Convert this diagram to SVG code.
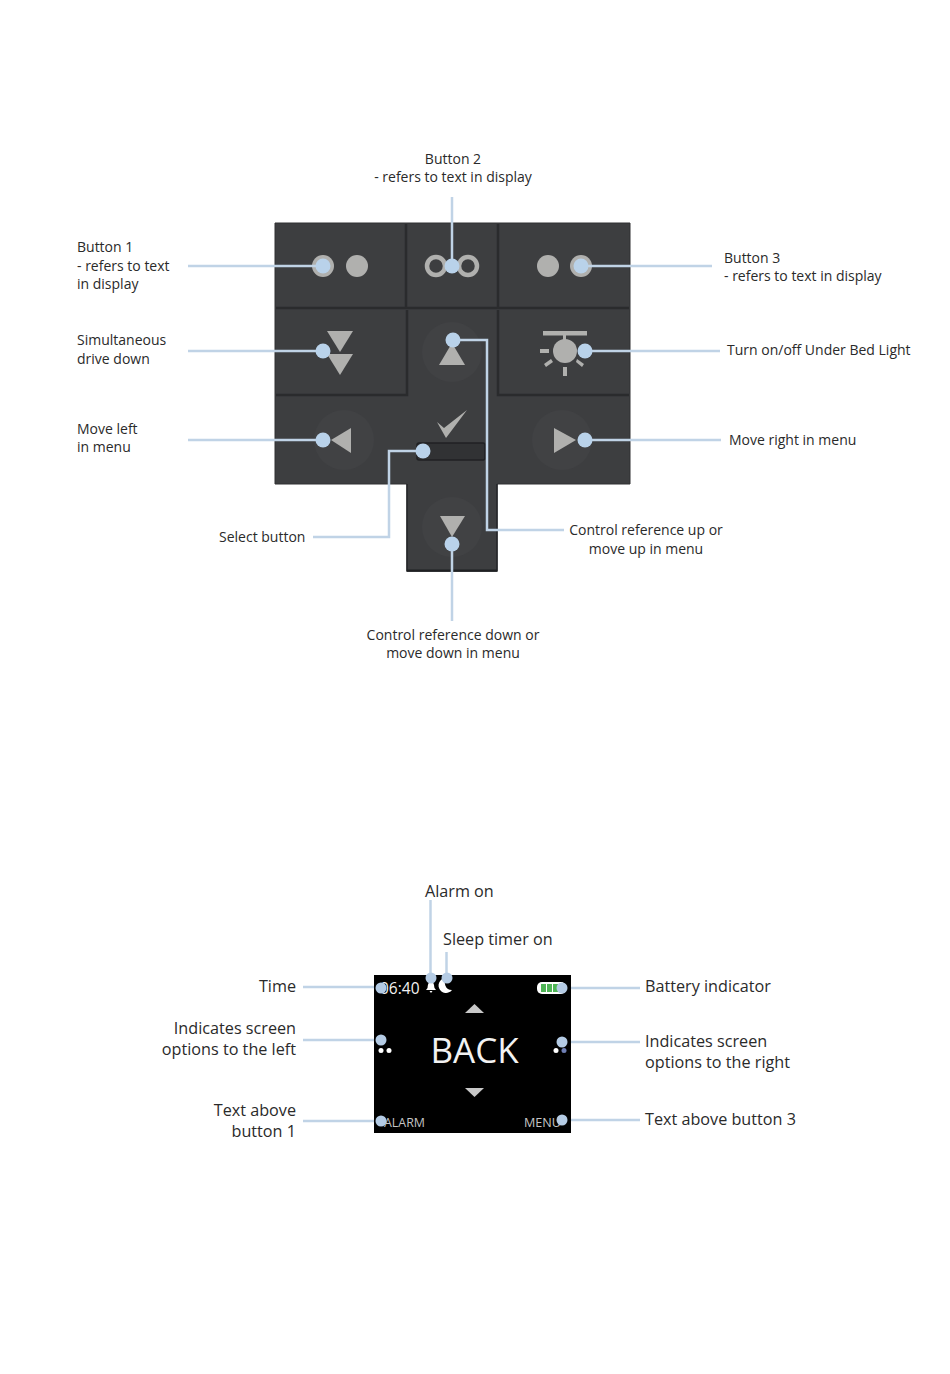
<svg xmlns="http://www.w3.org/2000/svg" width="950" height="1374" viewBox="0 0 950 1374">
<style>
text{font-family:"Open Sans","Noto Sans","Liberation Sans",sans-serif;fill:#2a2a2a}
.s{font-size:14px}
.m{font-size:16.2px}
.e{text-anchor:end}
.c{text-anchor:middle}
.l{fill:none;stroke:#c0d3e6;stroke-width:2.500}
.d{fill:#b9d2ea}
.h{fill:#b4cbe4}
.g{fill:#b0b0ae}
.div{stroke:#2a2b2d;stroke-width:2.500;fill:none}
.knob{fill:#414244}
</style>
<rect width="950" height="1374" fill="#fff"/>
<g id="remote">
<path d="M275 223H630V484H497V571H407V484H275Z" fill="#3d3e40" stroke="#303133" stroke-width="1"/>
<path class="div" d="M276 308H629M406 224V308M498 224V308M407 310V395H276M498 310V395H629"/>
<path d="M407 484V571H497V484" fill="none" stroke="#26272a" stroke-width="1.500"/>
<path d="M407 570.500H497" stroke="#1f2022" stroke-width="2"/>
<circle class="knob" cx="452" cy="352" r="30"/>
<circle class="knob" cx="344" cy="440" r="30"/>
<circle class="knob" cx="562" cy="440" r="30"/>
<circle class="knob" cx="452" cy="527" r="30"/>
</g>
<g id="icons">
<circle class="g" cx="323" cy="266" r="11"/>
<circle class="g" cx="357" cy="266" r="11"/>
<circle class="g" cx="548" cy="266" r="11"/>
<circle class="g" cx="581" cy="266" r="11"/>
<circle cx="436" cy="266" r="9" fill="none" stroke="#b0b0ae" stroke-width="4.500"/>
<circle cx="468" cy="266" r="9" fill="none" stroke="#b0b0ae" stroke-width="4.500"/>
<path class="g" d="M327 331H353L340 352Z"/>
<path class="g" d="M327 354H353L340 375Z"/>
<path class="g" d="M452 343L465 365H439Z"/>
<path class="g" d="M351 428V453L331 440Z"/>
<path class="g" d="M554 428V453L576 440Z"/>
<path class="g" d="M440 516H465L452 537Z"/>
<path class="g" d="M437 422L444 428L467 410L446 438Z"/>
<rect x="417" y="443" width="68" height="17" rx="2" fill="#313234" stroke="#202123" stroke-width="1.500"/>
<g>
<rect class="g" x="543" y="331" width="44" height="4.500"/>
<rect class="g" x="563" y="335" width="3" height="5"/>
<circle class="g" cx="565" cy="351" r="12"/>
<rect class="g" x="540" y="349" width="9" height="4"/>
<rect class="g" x="563" y="367" width="4" height="9"/>
<path class="g" d="M544 364L551 359L553 362L546 367Z"/>
<path class="g" d="M577 359L584 364L582 367L576 362Z"/>
</g>
</g>
<g id="connectors">
<path class="l" d="M188 266H323"/>
<path class="l" d="M452 197V266"/>
<path class="l" d="M581 266H712"/>
<path class="l" d="M188 351H323"/>
<path class="l" d="M453 340H487V530H564"/>
<path class="l" d="M585 351H720"/>
<path class="l" d="M188 440H323"/>
<path class="l" d="M585 440H721"/>
<path class="l" d="M423 451H389V537H313"/>
<path class="l" d="M452 544V621"/>
<path class="l" d="M303 987H381"/>
<path class="l" d="M303 1040H381"/>
<path class="l" d="M303 1121H381"/>
<path class="l" d="M430.500 900V978"/>
<path class="l" d="M446.500 952V978"/>
<path class="l" d="M562 988H640"/>
<path class="l" d="M562 1042H640"/>
<path class="l" d="M562 1120H640"/>
</g>
<g id="screen">
<rect x="374" y="975" width="197" height="158" fill="#000"/>
<text x="380" y="994" style="font-size:15.500px;fill:#f2f2f2">06:40</text>
<path fill="#fff" d="M431 982C434 982 434 985 434.500 988L436 990H426L427.500 988C428 985 428 982 431 982ZM429.500 991H432.500L431 993Z"/>
<path fill="#fff" d="M447 978A7.500 7.500 0 1 0 452 990A7 7 0 0 1 447 978Z"/>
<rect x="537" y="982" width="29" height="12" rx="5" fill="#fff"/>
<rect x="541" y="984" width="5" height="8" fill="#4fb556"/><rect x="547" y="984" width="5" height="8" fill="#4fb556"/><rect x="553" y="984" width="5" height="8" fill="#4fb556"/>
<path fill="#c8c8c8" d="M465 1013L474.500 1004L484 1013Z"/>
<path fill="#c8c8c8" d="M465 1088H484L474.500 1097Z"/>
<text x="474.500" y="1063" class="c" style="font-size:35px;fill:#f2f2f2">BACK</text>
<circle cx="381" cy="1050.500" r="2.500" fill="#fff"/><circle cx="389" cy="1050.500" r="2.500" fill="#fff"/>
<circle cx="556" cy="1050.500" r="2.500" fill="#fff"/><circle cx="564" cy="1050.500" r="2.500" fill="#6f7fb5"/>
<text x="384" y="1127" style="font-size:13px;fill:#c4c4c4" textLength="41" lengthAdjust="spacingAndGlyphs">ALARM</text>
<text x="524" y="1127" style="font-size:13px;fill:#c4c4c4" textLength="37" lengthAdjust="spacingAndGlyphs">MENU</text>
</g>
<g id="dots">
<circle class="d" cx="323" cy="266" r="7.500"/>
<circle class="d" cx="452" cy="266" r="7.500"/>
<circle class="d" cx="581" cy="266" r="7.500"/>
<circle class="d" cx="323" cy="351" r="7.500"/>
<circle class="d" cx="453" cy="340" r="7.500"/>
<circle class="d" cx="585" cy="351" r="7.500"/>
<circle class="d" cx="323" cy="440" r="7.500"/>
<circle class="d" cx="585" cy="440" r="7.500"/>
<circle class="d" cx="423" cy="451" r="7.500"/>
<circle class="d" cx="452" cy="544" r="7.500"/>
<circle class="h" cx="381" cy="988" r="5.500"/>
<circle class="h" cx="381" cy="1040" r="5.500"/>
<circle class="h" cx="381" cy="1121" r="5.500"/>
<circle class="h" cx="431" cy="978" r="5.500"/>
<circle class="h" cx="447" cy="978" r="5.500"/>
<circle class="h" cx="562" cy="988" r="5.500"/>
<circle class="h" cx="562" cy="1042" r="5.500"/>
<circle class="h" cx="562" cy="1120" r="5.500"/>
</g>
<g id="labels">
<text class="s c" x="453" y="164">Button 2</text>
<text class="s c" x="453" y="182">- refers to text in display</text>
<text class="s" x="77" y="252">Button 1</text>
<text class="s" x="77" y="271">- refers to text</text>
<text class="s" x="77" y="289">in display</text>
<text class="s" x="724" y="263">Button 3</text>
<text class="s" x="724" y="281">- refers to text in display</text>
<text class="s" x="77" y="345">Simultaneous</text>
<text class="s" x="77" y="364">drive down</text>
<text class="s" x="727" y="355">Turn on/off Under Bed Light</text>
<text class="s" x="77" y="434">Move left</text>
<text class="s" x="77" y="452">in menu</text>
<text class="s" x="729" y="445">Move right in menu</text>
<text class="s" x="219" y="542">Select button</text>
<text class="s c" x="646" y="535">Control reference up or</text>
<text class="s c" x="646" y="554">move up in menu</text>
<text class="s c" x="453" y="640">Control reference down or</text>
<text class="s c" x="453" y="658">move down in menu</text>
<text class="m" x="425" y="897">Alarm on</text>
<text class="m" x="443" y="945">Sleep timer on</text>
<text class="m e" x="296" y="992">Time</text>
<text class="m e" x="296" y="1034">Indicates screen</text>
<text class="m e" x="296" y="1055">options to the left</text>
<text class="m e" x="296" y="1116">Text above</text>
<text class="m e" x="296" y="1137">button 1</text>
<text class="m" x="645" y="992">Battery indicator</text>
<text class="m" x="645" y="1047">Indicates screen</text>
<text class="m" x="645" y="1068">options to the right</text>
<text class="m" x="645" y="1125">Text above button 3</text>
</g>
</svg>
